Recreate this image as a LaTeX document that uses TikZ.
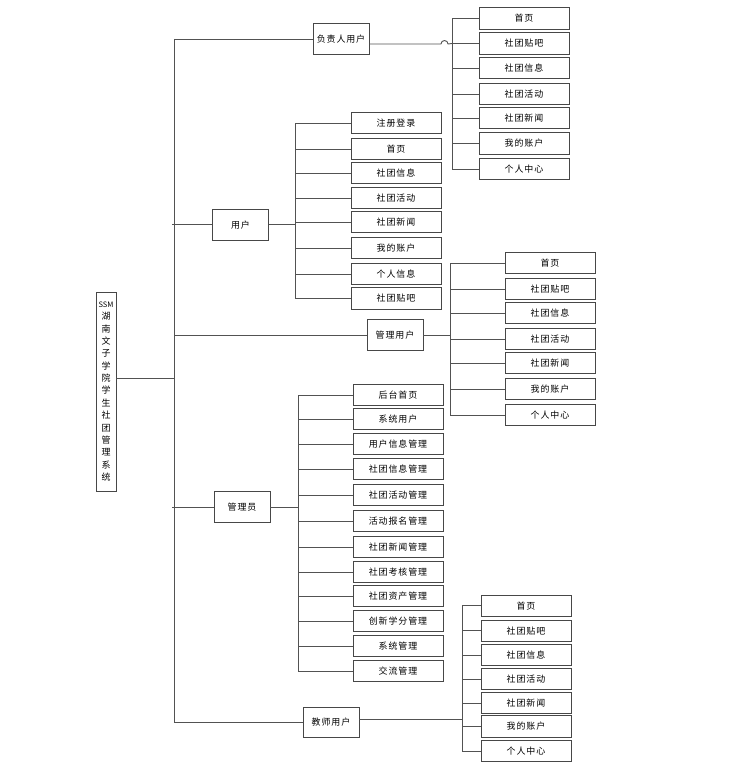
\documentclass[tikz,border=0pt]{standalone}
\usepackage{fontspec}
\newfontfamily\cjk[LetterSpace=10]{Noto Sans CJK SC}
\newfontfamily\cjkplain{Noto Sans CJK SC}
\begin{document}
\begin{tikzpicture}[x=1bp,y=-1bp,
  box/.style={draw=black!72, line width=0.9bp, fill=white, inner sep=0pt,
    font=\cjk\fontsize{9}{10}\selectfont, text=black},
  leaf/.style={box, minimum width=90bp, minimum height=21.5bp},
  mid/.style={box, minimum width=56bp, minimum height=30.5bp},
  wire/.style={draw=black!68, line width=0.9bp}]
\useasboundingbox (0,0) rectangle (748,772);

% root
\node[box, minimum width=20bp, minimum height=199bp, align=center,
  font=\cjkplain\fontsize{9}{12.4}\selectfont] (root) at (106,391.5)
  {{\fontsize{7.5}{12.4}\selectfont SSM}\\湖\\南\\文\\子\\学\\院\\学\\生\\社\\团\\管\\理\\系\\统};

% second level
\node[mid] (fz)  at (341,39)    {负责人用户};
\node[mid] (yh)  at (240.5,224.7) {用户};
\node[mid] (gly) at (395,335)   {管理用户};
\node[mid] (gl)  at (242,507)   {管理员};
\node[mid] (js)  at (331,722.5) {教师用户};

% buses and trunk
\coordinate (trunk) at (174,0);
\coordinate (fBus) at (452,0);
\coordinate (uBus) at (295,0);
\coordinate (mBus) at (450,0);
\coordinate (aBus) at (298,0);
\coordinate (tBus) at (462,0);
\coordinate (rootTap) at (116,378);

% leaves: 负责人用户
\foreach \t/\yy [count=\i] in {首页/18.3, 社团贴吧/43.5, 社团信息/68, 社团活动/94,
    社团新闻/118, 我的账户/143.5, 个人中心/169}{
  \node[leaf] (f\i) at (524,\yy) {\t};
  \draw[wire] (fBus |- f\i) -- (f\i.west);
}
% leaves: 用户
\foreach \t/\yy [count=\i] in {注册登录/123, 首页/149, 社团信息/173, 社团活动/198,
    社团新闻/222, 我的账户/248, 个人信息/274, 社团贴吧/298.5}{
  \node[leaf] (u\i) at (396,\yy) {\t};
  \draw[wire] (uBus |- u\i) -- (u\i.west);
}
% leaves: 管理用户
\foreach \t/\yy [count=\i] in {首页/263, 社团贴吧/289, 社团信息/313, 社团活动/339,
    社团新闻/363, 我的账户/389, 个人中心/415}{
  \node[leaf] (m\i) at (550,\yy) {\t};
  \draw[wire] (mBus |- m\i) -- (m\i.west);
}
% leaves: 管理员
\foreach \t/\yy [count=\i] in {后台首页/395, 系统用户/419, 用户信息管理/444, 社团信息管理/469,
    社团活动管理/495, 活动报名管理/521, 社团新闻管理/547, 社团考核管理/572,
    社团资产管理/596, 创新学分管理/621, 系统管理/646, 交流管理/671}{
  \node[leaf] (a\i) at (398,\yy) {\t};
  \draw[wire] (aBus |- a\i) -- (a\i.west);
}
% leaves: 教师用户
\foreach \t/\yy [count=\i] in {首页/605.7, 社团贴吧/630.7, 社团信息/655, 社团活动/679,
    社团新闻/703, 我的账户/726.5, 个人中心/751}{
  \node[leaf] (t\i) at (526,\yy) {\t};
  \draw[wire] (tBus |- t\i) -- (t\i.west);
}

% buses
\draw[wire] (fBus |- f1) -- (fBus |- f7);
\draw[wire] (uBus |- u1) -- (uBus |- u8);
\draw[wire] (mBus |- m1) -- (mBus |- m7);
\draw[wire] (aBus |- a1) -- (aBus |- a12);
\draw[wire] (tBus |- t1) -- (tBus |- t7);

% parents to buses
\draw[wire] ([yshift=-5bp]fz.east) -- (441,44) arc[start angle=180, end angle=360, radius=3.5] -- (fBus |- f2);
\draw[wire] (yh.east) -- (uBus |- yh);
\draw[wire] (gly.east) -- (mBus |- gly);
\draw[wire] (gl.east) -- (aBus |- gl);
\draw[wire] ([yshift=3bp]js.east) -- ([yshift=3bp]tBus |- js);

% trunk
\draw[wire] (trunk |- fz) -- (trunk |- js);
\draw[wire] (rootTap) -- (trunk |- rootTap);
\draw[wire] (trunk |- fz) -- (fz.west);
\draw[wire] ([xshift=-2bp]trunk |- yh) -- (yh.west);
\draw[wire] (trunk |- gly) -- (gly.west);
\draw[wire] ([xshift=-2bp]trunk |- gl) -- (gl.west);
\draw[wire] (trunk |- js) -- (js.west);
\end{tikzpicture}
\end{document}
